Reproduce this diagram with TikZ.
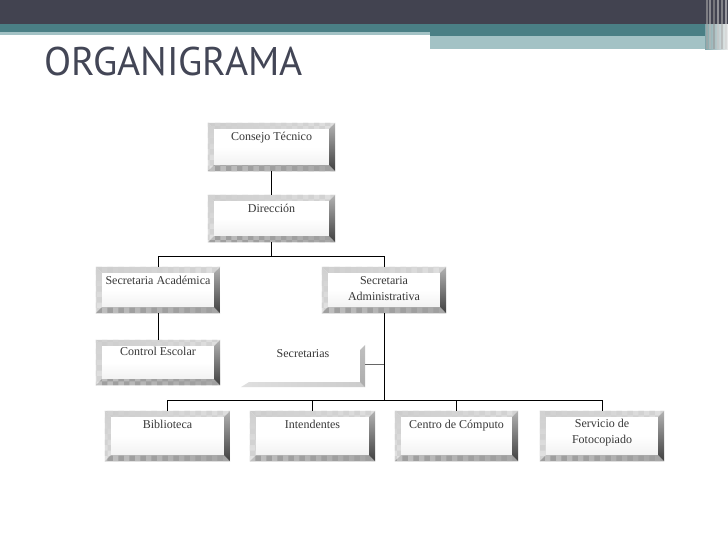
\documentclass[tikz,border=0pt]{standalone}
\usepackage{fontspec}
\setmainfont{Liberation Serif}
\newfontfamily\titlefont{PT Sans}
\usetikzlibrary{fit,calc,patterns}
\definecolor{hdrdark}{HTML}{424350}
\definecolor{hdrteal}{HTML}{4A7F85}
\definecolor{hdrlight}{HTML}{A3C2C5}
\definecolor{titlecol}{HTML}{434656}
\tikzset{
  boxframe/.style={inner sep=0pt, draw=none},
  lbl/.style={font=\fontsize{12}{16}\selectfont, text=black!78, align=center, inner sep=0pt, anchor=base},
  conn/.style={draw=black, line width=0.9pt},
  thinconn/.style={draw=gray!80!black, line width=0.7pt},
  bevtop/.style={left color=gray!40, right color=gray!25},
  bevleft/.style={top color=gray!38, bottom color=gray!22},
  bevright/.style={top color=gray!60, bottom color=black!75},
  bevbottom/.style={left color=gray!50, right color=gray!70},
  checker/.style={pattern=checkerboard, pattern color=gray!35},
  inside/.style={top color=white, bottom color=gray!14, middle color=white},
}
\newcommand\orgbox[7][18]{%
  \node[fit={(#3,#4) (#5,#6)}, boxframe] (#2) {};
  \shade[inside] (#2.north west) rectangle (#2.south east);
  \shade[bevtop] (#2.north west) -- (#2.north east) -- ([shift={(-6pt,-6pt)}]#2.north east) -- ([shift={(6pt,-6pt)}]#2.north west) -- cycle;
  \path[checker] (#2.north west) -- (#2.north east) -- ([shift={(-6pt,-6pt)}]#2.north east) -- ([shift={(6pt,-6pt)}]#2.north west) -- cycle;
  \shade[bevleft] (#2.north west) -- ([shift={(6pt,-6pt)}]#2.north west) -- ([shift={(6pt,6pt)}]#2.south west) -- (#2.south west) -- cycle;
  \path[checker] (#2.north west) -- ([shift={(6pt,-6pt)}]#2.north west) -- ([shift={(6pt,6pt)}]#2.south west) -- (#2.south west) -- cycle;
  \shade[bevbottom] (#2.south west) -- (#2.south east) -- ([shift={(-6pt,6pt)}]#2.south east) -- ([shift={(6pt,6pt)}]#2.south west) -- cycle;
  \path[pattern=checkerboard, pattern color=gray!75] (#2.south west) -- (#2.south east) -- ([shift={(-6pt,6pt)}]#2.south east) -- ([shift={(6pt,6pt)}]#2.south west) -- cycle;
  \shade[bevright] (#2.north east) -- (#2.south east) -- ([shift={(-6pt,6pt)}]#2.south east) -- ([shift={(-6pt,-6pt)}]#2.north east) -- cycle;
  \node[lbl] (#2-t) at ([yshift=-#1pt]#2.north) {#7};
}
\begin{document}
\begin{tikzpicture}[x=1pt,y=-1pt]
\useasboundingbox (0,0) rectangle (728,546);
\fill[white] (0,0) rectangle (728,546);
% header
\fill[hdrdark] (0,0) rectangle (728,24);
\fill[hdrteal] (0,24) rectangle (705,32);
\fill[hdrteal] (430,32) rectangle (705,36);
\fill[hdrlight] (0,32) rectangle (430,35);
\fill[hdrlight] (430,36) rectangle (705,49);
\shade[left color=hdrteal!70, right color=gray!15] (705,24) rectangle (728,49);
\foreach \sx/\sc in {706/gray!70, 709/gray!55, 713/gray!80, 717/gray!45, 721/gray!65, 725/gray!35}
  \fill[\sc, opacity=0.6] (\sx,0) rectangle (\sx+1.5,49);
% title
\node[anchor=base west, inner sep=0pt, text=titlecol, font=\titlefont\fontsize{40}{40}\selectfont] (title) at (44,75) {\scalebox{0.99}[1]{ORGANIGRAMA}};
% boxes
\orgbox{cons}{208}{123}{335}{171}{Consejo Técnico}
\orgbox{dir}{208}{195}{335}{242}{Dirección}
\orgbox{sacad}{96}{267}{220}{313}{Secretaria Académica}
\orgbox[34]{sadm}{322}{267}{446}{313}{Secretaria\\Administrativa}
\orgbox[16]{ctrl}{96}{340}{220}{385}{Control Escolar}
% Secretarias (only right and bottom bevels)
\node[fit={(241,342) (365,387)}, boxframe] (secs) {};
\shade[left color=gray!25, right color=gray!40] (secs.south west) -- (secs.south east) -- ([shift={(-5pt,5pt)}]secs.south east) -- ([shift={(8pt,5pt)}]secs.south west) -- cycle;
\shade[top color=gray!50, bottom color=gray!65] ([shift={(0pt,-3pt)}]secs.north east) -- (secs.south east) -- ([shift={(-5pt,5pt)}]secs.south east) -- ([shift={(-5pt,-8pt)}]secs.north east) -- cycle;
\node[lbl] (secs-t) at ([yshift=-16pt]secs.north) {Secretarias};
\orgbox{bib}{105}{411}{230}{461}{Biblioteca}
\orgbox{inte}{250}{411}{375}{461}{Intendentes}
\orgbox{cen}{395}{411}{518}{461}{Centro de Cómputo}
\orgbox[33]{serv}{540}{411}{664}{461}{Servicio de\\Fotocopiado}
% connectors
\coordinate (busA) at (0,256);
\coordinate (busB) at (0,400);
\draw[conn] (cons.south) -- (dir.north);
\draw[conn] (dir.south) -- (dir.south |- busA);
\draw[conn] (sacad.north) -- (sacad.north |- busA) -- (sadm.north |- busA) -- (sadm.north);
\draw[conn] (sacad.south) -- (ctrl.north);
\draw[conn] (sadm.south) -- (sadm.south |- busB);
\draw[thinconn] (secs.east) -- (secs.east -| sadm.south);
\draw[conn] (bib.north) -- (bib.north |- busB) -- (serv.north |- busB) -- (serv.north);
\draw[conn] (inte.north) -- (inte.north |- busB);
\draw[conn] (cen.north) -- (cen.north |- busB);
\end{tikzpicture}
\end{document}
